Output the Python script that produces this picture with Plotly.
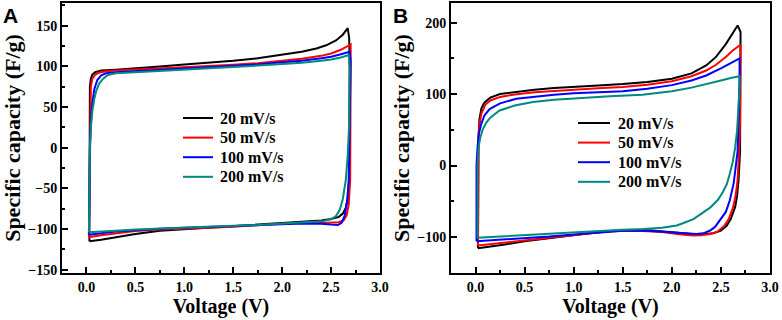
import plotly.graph_objects as go

# ---------------- Data ----------------
series_names = ["20 mV/s", "50 mV/s", "100 mV/s", "200 mV/s"]
series_colors = ["#000000", "#ff0000", "#0000ff", "#00897f"]

# Panel A
a_20_v = [0.03, 0.03, 0.03, 0.032, 0.035, 0.045, 0.06, 0.09, 0.15, 0.3, 0.5, 0.75, 1.0, 1.25, 1.5, 1.75, 2.0, 2.2, 2.35, 2.45, 2.55, 2.62, 2.67, 2.685,
          2.69, 2.69, 2.685, 2.67, 2.65, 2.62, 2.58, 2.5, 2.4, 2.2, 2.0, 1.75, 1.5, 1.25, 1.0, 0.75, 0.5, 0.3, 0.15, 0.03]
a_20_c = [-115, -60, 0, 50, 75, 85, 90, 93, 95, 96, 97.5, 100, 102.5, 104.5, 107, 110, 114, 118, 122, 126, 132, 139, 147, 135,
          100, 0, -40, -62, -74, -81, -85, -87.5, -89.5, -91, -92.5, -95, -97, -98.5, -100, -102, -106, -110.5, -113, -115]

a_50_v = [0.025, 0.03, 0.035, 0.04, 0.045, 0.06, 0.09, 0.13, 0.2, 0.3, 0.5, 0.75, 1.0, 1.25, 1.5, 1.75, 2.0, 2.2, 2.4, 2.5, 2.6, 2.7,
          2.7, 2.7, 2.695, 2.68, 2.66, 2.63, 2.58, 2.5, 2.4, 2.2, 2.0, 1.75, 1.5, 1.25, 1.0, 0.75, 0.5, 0.3, 0.15, 0.05, 0.025]
a_50_c = [-110, -50, 0, 50, 75, 85, 90, 92.5, 94, 95, 96, 97.5, 99, 100.5, 102, 104, 107, 109.5, 113, 116, 120.5, 127,
          100, 0, -40, -70, -83, -89, -91.5, -92, -92, -92.5, -93.5, -95.5, -97, -98.5, -99.5, -100.5, -102.5, -105, -107.5, -109.5, -110]

a_100_v = [0.025, 0.03, 0.035, 0.045, 0.06, 0.08, 0.11, 0.15, 0.2, 0.3, 0.5, 0.75, 1.0, 1.25, 1.5, 1.75, 2.0, 2.2, 2.4, 2.5, 2.6, 2.69,
           2.7, 2.69, 2.68, 2.665, 2.64, 2.61, 2.57, 2.5, 2.4, 2.2, 2.0, 1.75, 1.5, 1.25, 1.0, 0.75, 0.5, 0.3, 0.15, 0.05, 0.025]
a_100_c = [-107, -50, 0, 30, 55, 72, 83, 89, 91.5, 93, 94.5, 96, 97.5, 99, 100.5, 102.5, 105, 107, 110, 112, 115, 118,
           105, 0, -40, -65, -83, -92, -95, -94.5, -93.5, -93, -94, -95.5, -96.5, -97.5, -98.5, -99.5, -101, -103, -105, -106.5, -107]

a_200_v = [0.025, 0.03, 0.035, 0.045, 0.06, 0.08, 0.1, 0.13, 0.17, 0.22, 0.3, 0.5, 0.75, 1.0, 1.25, 1.5, 1.75, 2.0, 2.2, 2.4, 2.5, 2.6, 2.68,
           2.69, 2.685, 2.67, 2.65, 2.62, 2.59, 2.55, 2.5, 2.4, 2.2, 2.0, 1.75, 1.5, 1.25, 1.0, 0.75, 0.5, 0.3, 0.15, 0.05, 0.025]
a_200_c = [-104, -50, 0, 25, 45, 60, 70, 79, 85, 89.5, 91.5, 93, 94.5, 96, 97.5, 99, 101, 103, 104.5, 107, 108.5, 111, 114,
           100, 30, -10, -40, -63, -76, -84, -88, -90.5, -92, -93.5, -95, -96, -97, -98, -99, -100.5, -102, -103, -104, -104]

# Panel B
b_20_v = [0.025, 0.025, 0.025, 0.03, 0.04, 0.06, 0.09, 0.15, 0.25, 0.4, 0.6, 0.8, 1.0, 1.25, 1.5, 1.75, 2.0, 2.2, 2.35, 2.45, 2.55, 2.62, 2.67,
          2.7, 2.7, 2.7, 2.695, 2.68, 2.665, 2.645, 2.6, 2.56, 2.5, 2.42, 2.3, 2.2, 2.0, 1.8, 1.6, 1.4, 1.2, 1.0, 0.75, 0.5, 0.3, 0.15, 0.025]
b_20_c = [-116, -50, 0, 40, 65, 80, 88, 95, 100, 103, 106, 108.5, 110.5, 112, 114, 117, 121.5, 129, 140, 152, 170, 185, 196,
          187, 120, 60, 20, -20, -42, -58, -75, -84, -91, -95, -96.5, -96, -93.5, -91, -90.5, -91.5, -94, -97.5, -101, -106, -110.5, -113, -116]

b_50_v = [0.025, 0.025, 0.03, 0.04, 0.06, 0.1, 0.15, 0.25, 0.4, 0.6, 0.8, 1.0, 1.25, 1.5, 1.75, 2.0, 2.2, 2.35, 2.45, 2.55, 2.62, 2.7,
          2.7, 2.695, 2.685, 2.67, 2.65, 2.625, 2.58, 2.53, 2.46, 2.39, 2.3, 2.22, 2.1, 1.9, 1.6, 1.4, 1.2, 1.0, 0.75, 0.5, 0.3, 0.15, 0.025]
b_50_c = [-112, 0, 35, 58, 73, 85, 91, 96, 99.5, 102.5, 104.5, 106.5, 108, 110, 113, 118, 125, 133, 141, 152, 161, 169,
          120, 60, 20, -20, -42, -58, -75, -85, -93, -96, -97.5, -98, -96.5, -93, -91, -92, -94.5, -97.5, -100.5, -104.5, -108, -110, -112]

b_100_v = [0.01, 0.01, 0.02, 0.035, 0.058, 0.09, 0.143, 0.25, 0.415, 0.6, 0.8, 1.0, 1.25, 1.5, 1.75, 2.0, 2.2, 2.35, 2.5, 2.6, 2.69,
           2.69, 2.68, 2.67, 2.63, 2.59, 2.55, 2.49, 2.44, 2.39, 2.32, 2.25, 2.15, 2.0, 1.75, 1.5, 1.25, 1.0, 0.75, 0.5, 0.25, 0.1, 0.01]
b_100_c = [-106, 0, 25, 45, 58, 70, 79, 87, 93.5, 96.5, 99, 101, 102.5, 104, 107.5, 112.5, 119, 126, 136, 143, 150,
           120, 60, 20, -25, -49, -65, -77, -86, -91, -95, -96, -95, -93.5, -91.5, -91.5, -93.5, -96.5, -99.5, -102, -104, -105.5, -106]

b_200_v = [0.02, 0.02, 0.02, 0.03, 0.05, 0.075, 0.11, 0.15, 0.245, 0.4, 0.585, 0.8, 1.0, 1.37, 1.7, 2.0, 2.2, 2.4, 2.5, 2.6, 2.69,
           2.69, 2.68, 2.665, 2.645, 2.62, 2.59, 2.56, 2.52, 2.47, 2.39, 2.3, 2.22, 2.12, 2.05, 1.9, 1.71, 1.5, 1.37, 1.0, 0.755, 0.5, 0.25, 0.1, 0.02]
b_200_c = [-101, -50, 0, 25, 40, 51, 60, 67, 77, 84, 89, 92, 94, 97, 99, 104, 109, 115, 119, 122.5, 125,
           110, 80, 50, 25, 5, -12, -26, -37, -48, -59, -68, -75, -80.5, -84, -87, -89, -90, -91, -93.5, -95, -97, -99, -100.5, -101]

panel_a = [(a_20_v, a_20_c), (a_50_v, a_50_c), (a_100_v, a_100_c), (a_200_v, a_200_c)]
panel_b = [(b_20_v, b_20_c), (b_50_v, b_50_c), (b_100_v, b_100_c), (b_200_v, b_200_c)]

x_tick_vals = [0.0, 0.5, 1.0, 1.5, 2.0, 2.5, 3.0]
x_tick_text = ["0.0", "0.5", "1.0", "1.5", "2.0", "2.5", "3.0"]
a_y_ticks = [-150, -100, -50, 0, 50, 100, 150]
b_y_ticks = [-100, 0, 100, 200]

# ---------------- Figure ----------------
W, H = 782, 320
SERIF = "Liberation Serif"
SANS = "Liberation Sans"
fig = go.Figure()

for (v, c), name, col in zip(panel_a, series_names, series_colors):
    fig.add_trace(go.Scatter(x=v, y=c, mode="lines", name=name,
                             line=dict(color=col, width=2), xaxis="x", yaxis="y"))
for (v, c), name, col in zip(panel_b, series_names, series_colors):
    fig.add_trace(go.Scatter(x=v, y=c, mode="lines", name=name,
                             line=dict(color=col, width=2), xaxis="x2", yaxis="y2"))

tick_font = dict(family=SERIF, size=14, color="black", weight="bold")
xtitle_font = dict(family=SERIF, size=20, color="black", weight="bold")
ytitle_font = dict(family=SERIF, size=22, color="black", weight="bold")


def xaxis_style(domain, anchor):
    return dict(domain=domain, anchor=anchor, range=[-0.25, 3.0],
                tickvals=x_tick_vals, ticktext=x_tick_text,
                ticks="inside", ticklen=6, tickwidth=1.5, tickcolor="black",
                minor=dict(ticks="inside", ticklen=3, tickwidth=1.5, tickcolor="black", dtick=0.25, tick0=0),
                showline=True, linecolor="black", linewidth=2, mirror=True,
                showgrid=False, zeroline=False, tickfont=tick_font,
                title=dict(text="Voltage (V)", font=xtitle_font, standoff=0),
                automargin=False)


def yaxis_style(domain, anchor, rng, ticks, minor_dtick):
    return dict(domain=domain, anchor=anchor, range=rng, tickvals=ticks,
                ticks="inside", ticklen=6, tickwidth=1.5, tickcolor="black",
                minor=dict(ticks="inside", ticklen=3, tickwidth=1.5, tickcolor="black", dtick=minor_dtick, tick0=0),
                showline=True, linecolor="black", linewidth=2, mirror=True,
                showgrid=False, zeroline=False, tickfont=tick_font,
                title=dict(text="Specific capacity (F/g)", font=ytitle_font, standoff=2),
                automargin=False)


# Manual legends (line sample + text) placed like the reference
legend_font = dict(family=SERIF, size=16, color="black", weight="bold")
shapes, annotations = [], []
legend_specs = [  # (line x0, line x1, text x, first row y, row step) in pixels
    (183, 213, 218, 118, 19.6),
    (578, 610, 616, 123, 19.6),
]
for lx0, lx1, tx, y0, dy in legend_specs:
    for i, (name, col) in enumerate(zip(series_names, series_colors)):
        yy = 1 - (y0 + i * dy) / H
        shapes.append(dict(type="line", xref="paper", yref="paper",
                           x0=lx0 / W, x1=lx1 / W, y0=yy, y1=yy,
                           line=dict(color=col, width=2)))
        annotations.append(dict(text=name, x=tx / W, y=yy, xref="paper", yref="paper",
                                xanchor="left", yanchor="middle", showarrow=False,
                                font=legend_font))

panel_label_font = dict(family=SANS, size=21, color="black", weight="bold")
annotations.append(dict(text="A", x=1 / W, y=1 - 2 / H, xref="paper", yref="paper",
                        xanchor="left", yanchor="top", showarrow=False, font=panel_label_font))
annotations.append(dict(text="B", x=391 / W, y=1 - 2 / H, xref="paper", yref="paper",
                        xanchor="left", yanchor="top", showarrow=False, font=panel_label_font))

y_dom = [1 - 273 / H, 1 - 3 / H]
fig.update_layout(
    width=W, height=H,
    margin=dict(l=0, r=0, t=0, b=0),
    paper_bgcolor="white", plot_bgcolor="white",
    xaxis=xaxis_style([62 / W, 380 / W], "y"),
    yaxis=yaxis_style(y_dom, "x", [-154, 178], a_y_ticks, 25),
    xaxis2=xaxis_style([451 / W, 770 / W], "y2"),
    yaxis2=yaxis_style(y_dom, "x2", [-150.5, 227.5], b_y_ticks, 50),
    shapes=shapes,
    annotations=annotations,
    showlegend=False,
)

fig.write_html("out.html", config={"displayModeBar": False},
               post_script="document.body.style.margin='0';document.body.style.overflow='hidden';")
